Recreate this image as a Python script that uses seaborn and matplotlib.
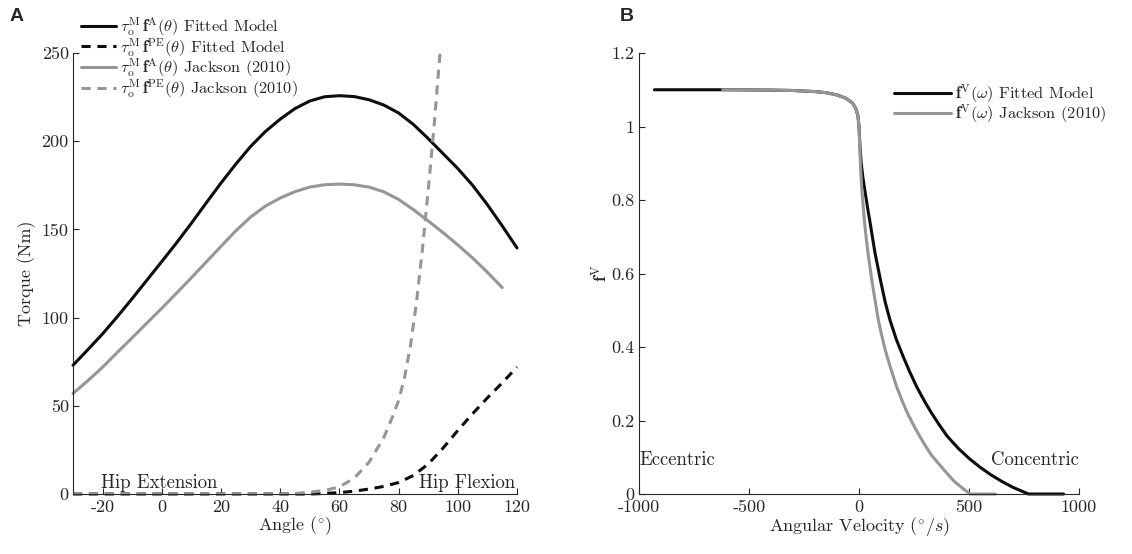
import matplotlib
matplotlib.use('Agg')
import matplotlib.pyplot as plt
import seaborn as sns
import numpy as np
from matplotlib.ticker import FuncFormatter

# Panel A: hip angle (deg) vs torque (Nm)
angle = [-30, -25, -20, -15, -10, -5, 0, 5, 10, 15, 20, 25, 30, 35, 40, 45, 50, 55,
         60, 65, 70, 75, 80, 85, 90, 95, 100, 105, 110, 115, 120]
fit_active = [73, 81.8, 90.8, 100.6, 110.8, 121.3, 131.8, 142.4, 153.5, 165, 176.3, 187,
              197, 205.5, 212.5, 218.5, 222.8, 225.2, 225.8, 225.3, 223.5, 220.5, 216,
              209.5, 201.5, 193, 184.5, 175, 164, 152, 139.5]
jack_angle = [-30, -25, -20, -15, -10, -5, 0, 5, 10, 15, 20, 25, 30, 35, 40, 45, 50, 55,
              60, 65, 70, 75, 80, 85, 90, 95, 100, 105, 110, 115]
jack_active = [57, 64.2, 71.9, 80.3, 88.6, 97, 105.3, 113.9, 122.6, 131.5, 140.4, 149.2,
               157, 163.2, 167.8, 171.4, 174, 175.3, 175.7, 175.3, 174, 171.3, 167, 161.2,
               154.8, 148.2, 141.2, 133.8, 125.7, 117]

fit_pe_angle = [-30, 0, 30, 50, 55, 60, 65, 70, 75, 80, 85, 90, 95, 100, 105, 110, 115, 120]
fit_passive = [0, 0, 0, 0, 0.3, 0.8, 1.6, 2.8, 4.3, 6.5, 10.5, 17, 26, 36, 45.5, 54.5, 63, 72]
jack_pe_angle = [-30, 0, 30, 40, 45, 50, 55, 60, 65, 70, 75, 78, 80, 82, 84, 86, 88, 90, 92, 94]
jack_passive = [0, 0, 0, 0, 0.3, 1, 2, 4, 9, 18, 32, 44, 53, 66, 84, 108, 138, 172, 209, 250]

# Panel B: angular velocity (deg/s) vs force-velocity factor
fit_vel = [-930, -800, -600, -400, -300, -200, -150, -100, -60, -30, -15, -5, 0, 5, 10, 18,
           27, 40, 50, 73, 100, 120, 141, 170, 200, 230, 262, 300, 330, 365, 400, 450, 500,
           550, 600, 650, 700, 770, 930]
fit_fv = [1.1, 1.1, 1.1, 1.099, 1.098, 1.095, 1.092, 1.086, 1.077, 1.064, 1.05, 1.03, 1.0,
          0.94, 0.9, 0.86, 0.825, 0.775, 0.74, 0.655, 0.575, 0.52, 0.473, 0.42, 0.375, 0.333,
          0.292, 0.25, 0.22, 0.188, 0.158, 0.125, 0.097, 0.073, 0.052, 0.034, 0.018, 0.0, 0.0]
jack_vel = [-620, -400, -300, -200, -150, -100, -60, -30, -15, -5, 0, 3, 7, 12, 18, 25, 33,
            42, 60, 88, 100, 120, 145, 171, 195, 220, 250, 277, 300, 330, 383, 430, 474, 505,
            620]
jack_fv = [1.1, 1.099, 1.098, 1.095, 1.092, 1.086, 1.077, 1.064, 1.05, 1.03, 1.0, 0.95,
           0.89, 0.836, 0.79, 0.74, 0.695, 0.65, 0.575, 0.473, 0.44, 0.39, 0.34, 0.292, 0.255,
           0.22, 0.185, 0.156, 0.133, 0.105, 0.068, 0.036, 0.014, 0.0, 0.0]

sns.set_style('ticks')
plt.rcParams['font.family'] = 'serif'
plt.rcParams['font.serif'] = ['cmr10']
plt.rcParams['mathtext.fontset'] = 'cm'
plt.rcParams['axes.unicode_minus'] = False
plt.rcParams['axes.edgecolor'] = '#262626'
plt.rcParams['axes.linewidth'] = 0.8
plt.rcParams['xtick.color'] = '#262626'
plt.rcParams['ytick.color'] = '#262626'
plt.rcParams['text.color'] = '#262626'

black = '#0d0d0d'
gray = '#969696'
lw = 2.2
dash = (0, (3, 2.2))
fs = 13
leg_fs = 11.8

fig = plt.figure(figsize=(11.32, 5.54), dpi=100)
ax1 = fig.add_axes([73 / 1132, 1 - 494 / 554, 444 / 1132, 441 / 554])
ax2 = fig.add_axes([639 / 1132, 1 - 494 / 554, 440 / 1132, 441 / 554])

# Panel A lines
sns.lineplot(x=angle, y=fit_active, ax=ax1, color=black, lw=lw, estimator=None, clip_on=False,
             label=r'$\tau_{\mathrm{o}}^{\mathrm{M}}\,\mathbf{f}^{\mathrm{A}}(\theta)$ Fitted Model')
sns.lineplot(x=fit_pe_angle, y=fit_passive, ax=ax1, color=black, lw=lw, linestyle=dash,
             estimator=None, clip_on=False,
             label=r'$\tau_{\mathrm{o}}^{\mathrm{M}}\,\mathbf{f}^{\mathrm{PE}}(\theta)$ Fitted Model')
sns.lineplot(x=jack_angle, y=jack_active, ax=ax1, color=gray, lw=lw, estimator=None, clip_on=False,
             label=r'$\tau_{\mathrm{o}}^{\mathrm{M}}\,\mathbf{f}^{\mathrm{A}}(\theta)$ Jackson (2010)')
sns.lineplot(x=jack_pe_angle, y=jack_passive, ax=ax1, color=gray, lw=lw, linestyle=dash,
             estimator=None, clip_on=False,
             label=r'$\tau_{\mathrm{o}}^{\mathrm{M}}\,\mathbf{f}^{\mathrm{PE}}(\theta)$ Jackson (2010)')

ax1.set_xlim(-30, 120)
ax1.set_ylim(0, 250)
ax1.set_xticks(np.arange(-20, 121, 20))
ax1.set_yticks(np.arange(0, 251, 50))
ax1.set_xlabel(r'Angle $(^{\circ})$', fontsize=fs)
ax1.set_ylabel('Torque (Nm)', fontsize=fs)
ax1.xaxis.set_label_coords(0.5, -0.047)
ax1.yaxis.set_label_coords(-0.083, 0.5)
ax1.text(-20.5, 3.5, 'Hip Extension', fontsize=13.5, ha='left', va='baseline')
ax1.text(119.5, 3.5, 'Hip Flexion', fontsize=13.5, ha='right', va='baseline')
ax1.legend(loc='upper left', bbox_to_anchor=(0.018, 1.086), frameon=False, fontsize=leg_fs,
           borderpad=0, borderaxespad=0, handlelength=2.15, handletextpad=0.25, labelspacing=-0.12)

# Panel B lines
sns.lineplot(x=fit_vel, y=fit_fv, ax=ax2, color=black, lw=lw, estimator=None, clip_on=False,
             label=r'$\mathbf{f}^{\mathrm{V}}(\omega)$ Fitted Model')
sns.lineplot(x=jack_vel, y=jack_fv, ax=ax2, color=gray, lw=lw, estimator=None, clip_on=False,
             label=r'$\mathbf{f}^{\mathrm{V}}(\omega)$ Jackson (2010)')

ax2.set_xlim(-1000, 1000)
ax2.set_ylim(0, 1.2)
ax2.set_xticks([-1000, -500, 0, 500, 1000])
ax2.set_yticks(np.arange(0, 1.21, 0.2))
ax2.set_xlabel(r'Angular Velocity $(^{\circ}/s)$', fontsize=fs)
ax2.set_ylabel(r'$\mathbf{f}^{\mathrm{V}}$', fontsize=fs)
ax2.xaxis.set_label_coords(0.5, -0.047)
ax2.yaxis.set_label_coords(-0.066, 0.5)
ax2.text(-1000, 0.079, 'Eccentric', fontsize=13.5, ha='left', va='baseline')
ax2.text(1000, 0.079, 'Concentric', fontsize=13.5, ha='right', va='baseline')
ax2.legend(loc='upper left', bbox_to_anchor=(0.58, 0.934), frameon=False, fontsize=leg_fs,
           borderpad=0, borderaxespad=0, handlelength=3.45, handletextpad=0.25, labelspacing=-0.12)

fmt = FuncFormatter(lambda v, p: '%g' % round(v, 6))
for ax in (ax1, ax2):
    sns.despine(ax=ax)
    ax.tick_params(direction='in', length=4, width=0.8, labelsize=fs)
    ax.tick_params(axis='x', pad=4)
    ax.tick_params(axis='y', pad=3)
    ax.xaxis.set_major_formatter(fmt)
    ax.yaxis.set_major_formatter(fmt)

fig.text(10 / 1132, 1 - 21 / 554, 'A', fontsize=14, fontweight='bold', family='Liberation Sans')
fig.text(620 / 1132, 1 - 21 / 554, 'B', fontsize=14, fontweight='bold', family='Liberation Sans')

fig.savefig('out.png', dpi=100)
